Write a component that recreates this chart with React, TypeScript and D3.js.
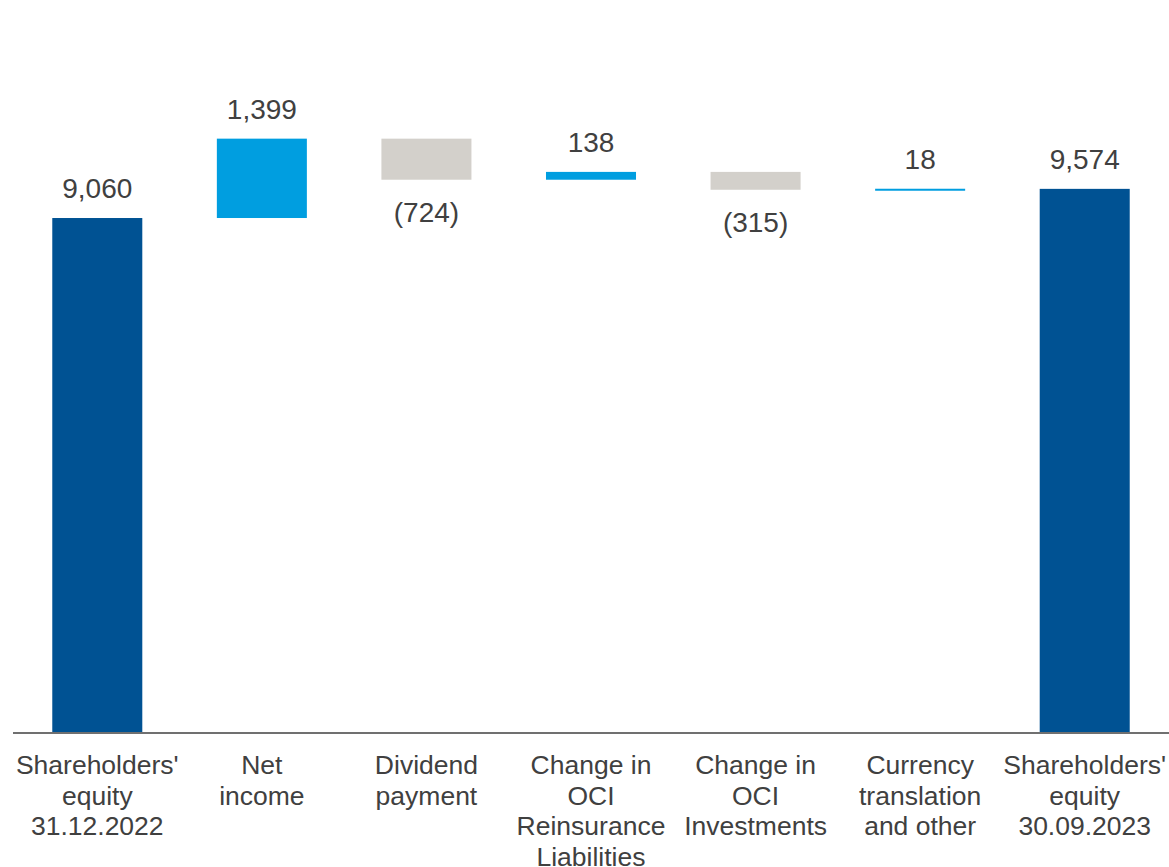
import React from "react";
import * as d3 from "d3";

const categories: string[][] = [
  ["Shareholders'", "equity", "31.12.2022"],
  ["Net", "income"],
  ["Dividend", "payment"],
  ["Change in", "OCI", "Reinsurance", "Liabilities"],
  ["Change in", "OCI", "Investments"],
  ["Currency", "translation", "and other"],
  ["Shareholders'", "equity", "30.09.2023"],
];
const startValue = 9060;
const deltas = [1399, -724, 138, -315, 18];
const endValue = 9574;

const W = 1169;
const H = 867;
const DARK = "#005293";
const LIGHT = "#009EE0";
const GREY = "#D3D0CB";
const TEXT = "#404040";
const FONT = "Arial, 'Liberation Sans', Helvetica, sans-serif";

type Bar = { key: string; lo: number; hi: number; value: number; kind: "total" | "up" | "down" };

export default function App() {
  const bars: Bar[] = [];
  bars.push({ key: "c0", lo: 0, hi: startValue, value: startValue, kind: "total" });
  let run = startValue;
  deltas.forEach((d, i) => {
    const next = run + d;
    bars.push({ key: "c" + (i + 1), lo: Math.min(run, next), hi: Math.max(run, next), value: d, kind: d >= 0 ? "up" : "down" });
    run = next;
  });
  bars.push({ key: "c6", lo: 0, hi: endValue, value: endValue, kind: "total" });

  const x = d3.scalePoint<string>().domain(bars.map((b) => b.key)).range([15, 1167]).padding(0.5);
  const barW = x.step() * 0.547;
  const y = d3.scaleLinear().domain([0, 12903]).range([732, 0]);
  const fmt = d3.format(",");
  const label = (v: number) => (v < 0 ? `(${fmt(-v)})` : fmt(v));

  return (
    <svg width={W} height={H} style={{ position: "absolute", left: 0, top: 0, background: "#fff" }} fontFamily={FONT}>
      {bars.map((b) => {
        const cx = x(b.key)!;
        const top = y(b.hi);
        const h = Math.max(2, y(b.lo) - y(b.hi));
        const fill = b.kind === "total" ? DARK : b.kind === "up" ? LIGHT : GREY;
        return (
          <g key={b.key}>
            <rect x={cx - barW / 2} y={top} width={barW} height={h} fill={fill} />
            {b.kind === "down" ? (
              <text x={cx} y={top + h + 42} textAnchor="middle" fontSize={28} fill={TEXT}>
                {label(b.value)}
              </text>
            ) : (
              <text x={cx} y={top - 20} textAnchor="middle" fontSize={28} fill={TEXT}>
                {label(b.value)}
              </text>
            )}
          </g>
        );
      })}
      <line x1={13} x2={W} y1={y(0) + 1} y2={y(0) + 1} stroke="#707070" strokeWidth={2} />
      {bars.map((b, i) => (
        <text key={"l" + i} x={x(b.key)!} y={774} textAnchor="middle" fontSize={26.5} fill={TEXT}>
          {categories[i].map((ln, j) => (
            <tspan key={j} x={x(b.key)!} dy={j === 0 ? 0 : 30.5}>
              {ln}
            </tspan>
          ))}
        </text>
      ))}
    </svg>
  );
}
